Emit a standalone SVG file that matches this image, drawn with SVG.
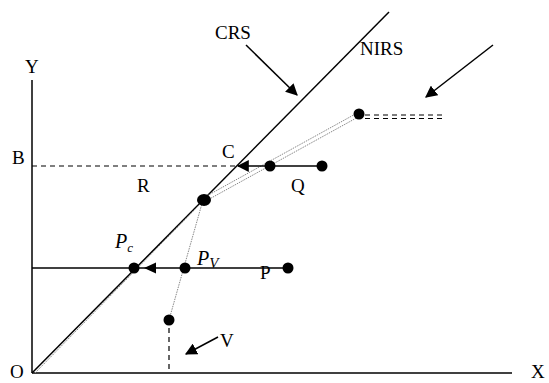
<svg xmlns="http://www.w3.org/2000/svg" width="549" height="383" viewBox="0 0 549 383">
<defs>
<style>
.t{font-family:"Liberation Serif","Times New Roman",serif;font-size:19px;fill:#000}
.ti{font-family:"Liberation Serif","Times New Roman",serif;font-size:20px;font-style:italic;fill:#000}
.ax{stroke:#000;stroke-width:1.5;fill:none}
.sol{stroke:#000;stroke-width:1.5;fill:none}
.dash{stroke:#000;stroke-width:1.2;stroke-dasharray:5,4;fill:none}
.dot{fill:#000}
.gdot{stroke:#888;stroke-width:1;stroke-dasharray:1.5,1;fill:none}
</style>
<marker id="ah2" viewBox="0 0 10 10" refX="9" refY="5" markerWidth="12" markerHeight="12" markerUnits="userSpaceOnUse" orient="auto">
<path d="M0,0 L10,5 L0,10 z" fill="#000"/>
</marker>
</defs>

<g id="axes">
<line class="ax" x1="32" y1="80" x2="32" y2="373"/>
<line class="ax" x1="32" y1="373" x2="512" y2="373"/>
<text class="t" x="25" y="73">Y</text>
<text class="t" x="531" y="378">X</text>
<text class="t" x="10" y="378">O</text>
<text class="t" x="12" y="164">B</text>
</g>

<g id="connectors">
<line class="sol" x1="32" y1="373" x2="389" y2="12" stroke-width="1.3"/>
<line x1="35" y1="373" x2="203" y2="201" class="gdot"/>
<line x1="203" y1="198" x2="359" y2="112" class="gdot"/>
<line x1="204" y1="202" x2="360" y2="116" class="gdot"/>
<line x1="203" y1="200" x2="169" y2="320" class="gdot"/>
<line class="dash" x1="365" y1="115" x2="445" y2="115" stroke-dasharray="6,3"/>
<line class="dash" x1="365" y1="118.5" x2="445" y2="118.5" stroke-dasharray="6,3"/>
<line class="dash" x1="32" y1="166" x2="236" y2="166"/>
<line class="sol" x1="322" y1="166" x2="238" y2="166" marker-end="url(#ah2)"/>
<line class="sol" x1="32" y1="268" x2="288" y2="268"/>
<path d="M144,268 L156,262.5 L156,273.5 z" fill="#000"/>
<line class="dash" x1="169" y1="328" x2="169" y2="373"/>
<line class="sol" x1="246" y1="45" x2="297" y2="95" stroke-width="1.3" marker-end="url(#ah2)"/>
<line class="sol" x1="493" y1="45" x2="426" y2="97" stroke-width="1.3" marker-end="url(#ah2)"/>
<line class="sol" x1="218" y1="337" x2="186" y2="354" stroke-width="1.3" marker-end="url(#ah2)"/>
</g>

<g id="labels">
<text class="t" x="215" y="39">CRS</text>
<text class="t" x="360" y="55">NIRS</text>
<text class="t" x="222" y="158">C</text>
<text class="t" x="137" y="192">R</text>
<text class="t" x="291" y="192">Q</text>
<text class="t" x="260" y="279">P</text>
<text class="t" x="220" y="347">V</text>
<text class="ti" x="115" y="248">P<tspan font-size="13" dy="4">c</tspan></text>
<text class="ti" x="197" y="265">P<tspan font-size="15" dy="3">V</tspan></text>
</g>

<g id="node-top"><circle class="dot" cx="359" cy="114" r="5.5"/></g>
<g id="node-kink"><ellipse class="dot" cx="204" cy="200" rx="7" ry="6"/></g>
<g id="node-q1"><circle class="dot" cx="270" cy="166" r="5.5"/></g>
<g id="node-q2"><circle class="dot" cx="322" cy="166" r="5.5"/></g>
<g id="node-pc"><circle class="dot" cx="134" cy="268" r="5.5"/></g>
<g id="node-pv"><circle class="dot" cx="185" cy="268" r="5.5"/></g>
<g id="node-p"><circle class="dot" cx="288" cy="268" r="5.5"/></g>
<g id="node-v"><circle class="dot" cx="169" cy="320" r="5.5"/></g>
</svg>
